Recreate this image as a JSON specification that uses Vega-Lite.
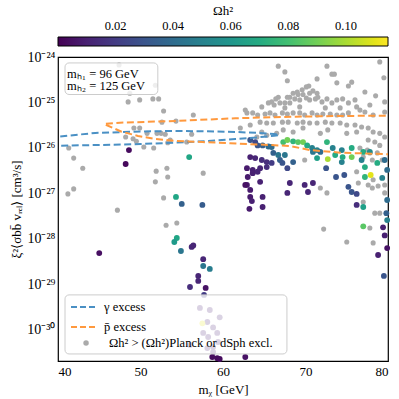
{
"$schema": "https://vega.github.io/schema/vega-lite/v6.json",
"width": 330, "height": 304,
"autosize": "none",
"padding": {"left": 58, "top": 57, "right": 11, "bottom": 38},
"background": "white",
"config": {"view": {"stroke": "black", "strokeWidth": 1.2}, "font": "Liberation Serif"},
"layer": [
{
"data": {"values": [
{"x":41.3,"y":1.0e-26},{"x":41.9,"y":6.0e-27},{"x":43.0,"y":3.6e-27},{"x":41.2,"y":9.8e-28},{"x":41.9,"y":1.26e-27},{"x":47.2,"y":4.3e-28},{"x":47.4,"y":6.7e-25},{"x":48.7,"y":1.6e-25},{"x":48.5,"y":1.03e-25},{"x":49.9,"y":1.14e-25},{"x":51.5,"y":1.2e-25},{"x":52.2,"y":1.2e-25},{"x":51.8,"y":2.4e-25},{"x":52.8,"y":6.5e-26},{"x":56.4,"y":5.3e-26},{"x":54.3,"y":3.9e-26},{"x":52.6,"y":3.7e-26},{"x":49.2,"y":2.75e-26},{"x":49.9,"y":2.75e-26},{"x":50.8,"y":2.1e-26},{"x":52.0,"y":2.1e-26},{"x":52.5,"y":2.1e-26},{"x":53.0,"y":2.0e-26},{"x":48.2,"y":1.75e-26},{"x":49.1,"y":1.6e-26},{"x":49.5,"y":1.4e-26},{"x":53.6,"y":1.5e-26},{"x":53.3,"y":1.3e-26},{"x":51.6,"y":1.0e-26},{"x":50.4,"y":1.05e-26},{"x":56.2,"y":2.0e-26},{"x":55.6,"y":1.35e-26},{"x":51.9,"y":3.1e-27},{"x":53.2,"y":3.6e-27},{"x":53.3,"y":2.3e-27},{"x":57.6,"y":2.8e-27},{"x":51.8,"y":1.8e-27},{"x":52.8,"y":8.0e-28},{"x":53.1,"y":2.0e-28},{"x":54.4,"y":2.25e-28},
{"x":66.7,"y":6.3e-25},{"x":67.5,"y":4.7e-25},{"x":67.8,"y":3.0e-25},{"x":72.6,"y":6.3e-25},{"x":73.2,"y":4.2e-25},{"x":73.5,"y":4.2e-25},{"x":71.4,"y":3.3e-25},{"x":73.8,"y":2.7e-25},{"x":75.2,"y":2.3e-25},{"x":75.6,"y":2.8e-25},{"x":70.4,"y":2.3e-25},{"x":70.1,"y":2.2e-25},{"x":69.6,"y":1.9e-25},{"x":69.0,"y":1.7e-25},{"x":68.5,"y":1.6e-25},{"x":70.9,"y":1.8e-25},{"x":71.4,"y":1.6e-25},{"x":71.5,"y":1.3e-25},{"x":70.5,"y":1.6e-25},{"x":69.7,"y":1.5e-25},{"x":69.1,"y":1.5e-25},{"x":68.1,"y":1.3e-25},{"x":67.8,"y":1.3e-25},{"x":66.7,"y":1.3e-25},{"x":66.4,"y":1.2e-25},{"x":65.9,"y":1.03e-25},{"x":65.5,"y":9.8e-26},{"x":66.2,"y":8.8e-26},{"x":66.9,"y":9.8e-26},{"x":67.5,"y":9.8e-26},{"x":68.1,"y":9.8e-26},{"x":68.7,"y":1.2e-25},{"x":69.3,"y":1.14e-25},{"x":70.1,"y":1.26e-25},{"x":70.5,"y":1.14e-25},{"x":71.2,"y":1.2e-25},{"x":72.0,"y":1.03e-25},{"x":72.6,"y":1.2e-25},{"x":73.2,"y":9.8e-26},{"x":73.8,"y":1.14e-25},{"x":74.5,"y":1.2e-25},{"x":75.2,"y":9.8e-26},{"x":76.0,"y":1.14e-25},{"x":76.2,"y":8.0e-26},{"x":76.6,"y":6.8e-26},{"x":77.2,"y":6.2e-26},{"x":78.2,"y":5.3e-26},{"x":78.5,"y":1.4e-25},{"x":79.6,"y":1.03e-25},{"x":79.6,"y":6.2e-26},
{"x":63.6,"y":5.9e-26},{"x":62.9,"y":5.9e-26},{"x":64.2,"y":5.3e-26},{"x":65.1,"y":5.6e-26},{"x":65.7,"y":5.9e-26},{"x":66.3,"y":5.3e-26},{"x":67.2,"y":5.9e-26},{"x":67.8,"y":5.6e-26},{"x":68.5,"y":5.9e-26},{"x":69.3,"y":5.9e-26},{"x":69.9,"y":5.3e-26},{"x":70.8,"y":5.9e-26},{"x":71.4,"y":5.3e-26},{"x":72.1,"y":5.6e-26},{"x":73.0,"y":5.6e-26},{"x":73.8,"y":5.3e-26},{"x":74.5,"y":5.3e-26},{"x":75.2,"y":5.9e-26},
{"x":64.5,"y":3.7e-26},{"x":65.3,"y":3.55e-26},{"x":66.1,"y":3.55e-26},{"x":67.2,"y":3.7e-26},{"x":67.9,"y":3.7e-26},{"x":69.0,"y":3.55e-26},{"x":69.7,"y":3.7e-26},{"x":70.5,"y":3.55e-26},{"x":71.4,"y":3.55e-26},{"x":72.4,"y":3.7e-26},{"x":73.2,"y":3.55e-26},{"x":74.2,"y":3.55e-26},{"x":75.0,"y":3.2e-26},{"x":76.0,"y":3.2e-26},{"x":76.8,"y":2.9e-26},{"x":77.6,"y":2.75e-26},{"x":78.2,"y":2.25e-26},{"x":79.0,"y":2.1e-26},{"x":79.6,"y":1.75e-26},{"x":76.2,"y":2.25e-26},{"x":75.0,"y":2.1e-26},{"x":71.8,"y":2.1e-26},{"x":72.7,"y":2.5e-26},{"x":69.7,"y":2.75e-26},{"x":68.5,"y":2.25e-26},{"x":67.3,"y":2.5e-26},{"x":66.5,"y":2.1e-26},{"x":64.7,"y":2.25e-26},{"x":65.3,"y":1.9e-26},{"x":64.1,"y":1.75e-26},
{"x":77.6,"y":1.5e-26},{"x":78.4,"y":1.35e-26},{"x":79.0,"y":1.14e-26},{"x":76.6,"y":1.0e-26},{"x":77.5,"y":9.0e-27},{"x":77.8,"y":7.8e-27},{"x":78.7,"y":7.8e-27},{"x":77.0,"y":6.3e-27},{"x":78.1,"y":5.45e-27},{"x":79.3,"y":5.45e-27},{"x":71.8,"y":1.32e-27},{"x":72.6,"y":1.03e-27},{"x":77.6,"y":1.54e-27},{"x":78.1,"y":1.32e-27},{"x":79.6,"y":1.54e-27},{"x":79.6,"y":1.03e-27},{"x":69.9,"y":5.45e-27},{"x":76.2,"y":3.0e-27},{"x":76.4,"y":1.7e-27},{"x":78.2,"y":2.0e-27},{"x":78.8,"y":1.46e-27},{"x":77.0,"y":6.5e-28},{"x":78.4,"y":3.7e-28},{"x":79.0,"y":3.7e-28},{"x":77.8,"y":1.75e-28},{"x":75.0,"y":8.6e-29},{"x":78.2,"y":8.2e-29},{"x":72.2,"y":1.65e-28},
{"x":79.0,"y":7.8e-25},{"x":79.5,"y":3.5e-25},{"x":77.2,"y":1.7e-25},{"x":77.8,"y":8.8e-26},{"x":74.2,"y":7.6e-26},{"x":72.4,"y":7.6e-26},{"x":69.3,"y":8.0e-26},{"x":67.5,"y":7.6e-26},{"x":64.7,"y":8.0e-26},{"x":62.7,"y":6.8e-26},{"x":63.3,"y":3.2e-26},{"x":62.1,"y":2.75e-26}
]},
"mark": {"type": "point", "filled": true, "size": 26, "opacity": 1, "color": "#aaaaaa"},
"encoding": {
"x": {"field": "x", "type": "quantitative", "scale": {"domain": [40, 80], "nice": false, "zero": false},
 "axis": {"orient": "bottom", "values": [40,42,44,46,48,50,52,54,56,58,60,62,64,66,68,70,72,74,76,78,80], "format": "d", "labelExpr": "datum.value % 10 === 0 ? datum.label : ''", "labelOverlap": false, "tickSize": 0, "labelPadding": 4, "domain": false, "grid": false, "labelFont": "Liberation Serif", "labelFontSize": 13, "labelColor": "black", "title": "mᵪ [GeV]", "titleFont": "Liberation Serif", "titleFontSize": 13, "titleFontWeight": "normal", "titleColor": "black", "titlePadding": 5,
 "encode": {"ticks": {"update": {"y2": [{"test": "datum.value % 10 === 0", "value": -6}, {"value": -3}], "stroke": {"value": "black"}}}}}},
"y": {"field": "y", "type": "quantitative", "scale": {"type": "log", "domain": [2.08e-31, 1e-24], "nice": false},
 "axis": {"orient": "left", "values": [3e-31,4e-31,5e-31,6e-31,7e-31,8e-31,9e-31,1e-30,2e-30,3e-30,4e-30,5e-30,6e-30,7e-30,8e-30,9e-30,1e-29,2e-29,3e-29,4e-29,5e-29,6e-29,7e-29,8e-29,9e-29,1e-28,2e-28,3e-28,4e-28,5e-28,6e-28,7e-28,8e-28,9e-28,1e-27,2e-27,3e-27,4e-27,5e-27,6e-27,7e-27,8e-27,9e-27,1e-26,2e-26,3e-26,4e-26,5e-26,6e-26,7e-26,8e-26,9e-26,1e-25,2e-25,3e-25,4e-25,5e-25,6e-25,7e-25,8e-25,9e-25,1e-24],
 "labelExpr": "abs(log(datum.value)/LN10 - round(log(datum.value)/LN10)) < 0.01 ? ['10⁻²⁴','10⁻²⁵','10⁻²⁶','10⁻²⁷','10⁻²⁸','10⁻²⁹','10⁻³⁰'][round(-log(datum.value)/LN10) - 24] : ''",
 "labelOverlap": false, "tickSize": 0, "labelPadding": 3, "domain": false, "grid": false, "labelFont": "Liberation Serif", "labelFontSize": 14, "labelColor": "black", "title": "ξ²⟨σbb̄ vᵣₑₗ⟩ [cm³/s]", "titleFont": "Liberation Serif", "titleFontSize": 13, "titleFontWeight": "normal", "titleColor": "black", "titlePadding": 3,
 "encode": {"ticks": {"update": {"x2": [{"test": "abs(log(datum.value)/LN10 - round(log(datum.value)/LN10)) < 0.01", "value": 6}, {"value": 3}], "stroke": {"value": "black"}}}}}},
"shape": {"datum": "Ωh² > (Ωh²)Planck or dSph excl.", "type": "nominal", "scale": {"range": ["circle"]},
 "legend": {"orient": "none", "legendX": 21.8, "legendY": 279.75, "title": null, "padding": 0, "symbolSize": 30, "symbolFillColor": "#aaaaaa", "symbolStrokeWidth": 0, "symbolOpacity": 1, "labelOffset": 16.7, "labelFont": "Liberation Serif", "labelFontSize": 12.5, "labelColor": "black", "labelLimit": 300}}
}
},
{
"data": {"values": [
{"x":48.6,"y":9.0e-27,"v":0.003},{"x":48.2,"y":4.45e-27,"v":0.002},{"x":55.9,"y":6.3e-27,"v":0.068},{"x":45.0,"y":4.9e-29,"v":0.004},{"x":54.3,"y":8.4e-28,"v":0.068},{"x":55.0,"y":5.9e-28,"v":0.035},{"x":57.5,"y":5.6e-28,"v":0.033},{"x":54.4,"y":1.05e-28,"v":0.068},{"x":54.1,"y":8.6e-29,"v":0.062},{"x":54.9,"y":5.45e-29,"v":0.045},{"x":56.2,"y":6.7e-29,"v":0.012},{"x":56.4,"y":7.2e-29,"v":0.012},{"x":57.6,"y":3.6e-29,"v":0.012},{"x":57.6,"y":2.55e-29,"v":0.045},{"x":58.4,"y":2.2e-29,"v":0.048},{"x":57.0,"y":1.54e-29,"v":0.012},{"x":57.0,"y":1.2e-29,"v":0.012},{"x":56.0,"y":8.8e-30,"v":0.015},{"x":57.9,"y":8.4e-30,"v":0.005},{"x":57.7,"y":5.9e-30,"v":0.02},
{"x":57.2,"y":3.05e-30,"v":0.01},{"x":58.4,"y":2.75e-30,"v":0.01},{"x":59.6,"y":1.9e-30,"v":0.012},{"x":58.1,"y":1.5e-30,"v":0.01},{"x":57.5,"y":1.4e-30,"v":0.11},{"x":58.8,"y":1.14e-30,"v":0.01},{"x":57.6,"y":8.6e-31,"v":0.01},{"x":59.3,"y":8.6e-31,"v":0.01},{"x":58.2,"y":7.0e-31,"v":0.01},{"x":59.4,"y":5.45e-31,"v":0.01},{"x":58.8,"y":4.2e-31,"v":0.01},{"x":58.1,"y":4.0e-31,"v":0.01},{"x":56.0,"y":4.7e-31,"v":0.01},{"x":58.8,"y":3.3e-31,"v":0.01},{"x":58.7,"y":2.55e-31,"v":0.003},{"x":59.3,"y":2.4e-31,"v":0.003},{"x":59.6,"y":2.3e-31,"v":0.003},{"x":62.7,"y":2.55e-31,"v":0.005},
{"x":63.3,"y":1.5e-26,"v":0.03},{"x":63.9,"y":1.35e-26,"v":0.025},{"x":64.2,"y":1.14e-26,"v":0.03},{"x":64.8,"y":1.14e-26,"v":0.035},{"x":65.5,"y":1.08e-26,"v":0.04},{"x":65.9,"y":1.05e-26,"v":0.04},{"x":66.1,"y":7.8e-27,"v":0.035},{"x":66.7,"y":7.0e-27,"v":0.045},{"x":67.5,"y":7.0e-27,"v":0.045},{"x":66.9,"y":5.45e-27,"v":0.035},{"x":67.2,"y":4.7e-27,"v":0.03},{"x":67.8,"y":3.6e-27,"v":0.025},{"x":68.5,"y":4.9e-27,"v":0.035},
{"x":63.3,"y":6.3e-27,"v":0.01},{"x":63.9,"y":6.0e-27,"v":0.012},{"x":64.7,"y":5.45e-27,"v":0.015},{"x":65.3,"y":4.9e-27,"v":0.015},{"x":65.9,"y":4.7e-27,"v":0.02},{"x":62.9,"y":3.6e-27,"v":0.008},{"x":63.6,"y":3.3e-27,"v":0.01},{"x":64.5,"y":3.6e-27,"v":0.012},{"x":65.3,"y":3.8e-27,"v":0.015},{"x":63.0,"y":2.3e-27,"v":0.008},{"x":62.9,"y":1.54e-27,"v":0.008},{"x":64.5,"y":1.8e-27,"v":0.01},{"x":63.3,"y":1.2e-27,"v":0.008},{"x":63.3,"y":8.4e-28,"v":0.008},{"x":64.8,"y":8.4e-28,"v":0.01},{"x":63.2,"y":4.6e-28,"v":0.008},{"x":64.8,"y":5.05e-28,"v":0.01},{"x":62.7,"y":1.54e-27,"v":0.005},{"x":63.6,"y":2.8e-27,"v":0.01},{"x":64.2,"y":3.0e-27,"v":0.012},{"x":63.5,"y":6.8e-28,"v":0.01},
{"x":68.1,"y":1.7e-27,"v":0.012},{"x":67.8,"y":1.03e-27,"v":0.012},{"x":69.9,"y":1.54e-27,"v":0.012},{"x":70.3,"y":1.08e-27,"v":0.012},{"x":70.9,"y":1.7e-27,"v":0.012},{"x":72.5,"y":3.6e-27,"v":0.03},{"x":73.7,"y":2.3e-27,"v":0.03},{"x":74.7,"y":2.55e-27,"v":0.03},{"x":75.2,"y":1.4e-27,"v":0.03},{"x":75.6,"y":1.08e-27,"v":0.03},{"x":76.2,"y":9.8e-28,"v":0.025},{"x":76.2,"y":5.6e-28,"v":0.015},{"x":77.0,"y":5.05e-28,"v":0.065},{"x":77.2,"y":2.3e-27,"v":0.075},{"x":77.9,"y":2.55e-27,"v":0.11},{"x":79.3,"y":2.2e-27,"v":0.05},{"x":77.0,"y":1.9e-28,"v":0.085},{"x":79.4,"y":1.8e-28,"v":0.01},{"x":79.6,"y":1.2e-28,"v":0.01},{"x":78.8,"y":4.45e-29,"v":0.01},{"x":79.5,"y":1.54e-29,"v":0.03},{"x":79.9,"y":2.6e-28,"v":0.05},{"x":79.8,"y":3.7e-28,"v":0.035},{"x":79.9,"y":7.2e-28,"v":0.04},{"x":79.9,"y":6.3e-29,"v":0.005},
{"x":67.3,"y":1.35e-26,"v":0.08},{"x":67.8,"y":1.5e-26,"v":0.09},{"x":68.5,"y":1.4e-26,"v":0.075},{"x":69.1,"y":1.35e-26,"v":0.085},{"x":69.7,"y":1.35e-26,"v":0.09},{"x":70.2,"y":1.14e-26,"v":0.07},{"x":70.8,"y":1.0e-26,"v":0.05},{"x":71.4,"y":9.0e-27,"v":0.05},{"x":72.6,"y":1.35e-26,"v":0.075},{"x":73.3,"y":1.0e-26,"v":0.05},{"x":74.4,"y":9.0e-27,"v":0.05},{"x":75.6,"y":6.3e-27,"v":0.09},{"x":76.8,"y":5.45e-27,"v":0.05},{"x":77.2,"y":3.8e-27,"v":0.07},{"x":78.7,"y":4.7e-27,"v":0.07},{"x":72.7,"y":5.7e-27,"v":0.1},{"x":73.6,"y":7.0e-27,"v":0.07},{"x":74.4,"y":4.9e-27,"v":0.05},{"x":74.5,"y":6.3e-27,"v":0.07},{"x":71.4,"y":6.0e-27,"v":0.065},{"x":70.9,"y":8.2e-27,"v":0.045},{"x":75.6,"y":1.0e-26,"v":0.07},{"x":77.0,"y":8.2e-27,"v":0.07},{"x":77.8,"y":8.2e-27,"v":0.055},{"x":79.6,"y":5.45e-27,"v":0.04},{"x":79.9,"y":3.3e-27,"v":0.04},{"x":71.8,"y":8.2e-27,"v":0.04}
]},
"mark": {"type": "point", "filled": true, "size": 34, "opacity": 1},
"encoding": {
"x": {"field": "x", "type": "quantitative", "axis": null},
"y": {"field": "y", "type": "quantitative", "axis": null},
"fill": {"field": "v", "type": "quantitative", "scale": {"scheme": "viridis", "domain": [0, 0.1146], "nice": false, "zero": false},
 "legend": {"orient": "none", "legendX": 0, "legendY": -52, "direction": "horizontal", "gradientLength": 330, "gradientThickness": 9, "gradientStrokeColor": "black", "gradientStrokeWidth": 1, "title": "Ωh²", "titleAnchor": "middle", "titleFont": "Liberation Serif", "titleFontSize": 13, "titleFontWeight": "normal", "titleColor": "black", "titlePadding": 19, "values": [0.02, 0.04, 0.06, 0.08, 0.1], "format": ".2f", "labelOffset": -26, "labelFont": "Liberation Serif", "labelFontSize": 12.5, "labelColor": "black", "labelOverlap": false}}
}
},
{
"data": {"values": [
{"s":"γ excess","o":1,"x":39,"y":1.8e-26},{"s":"γ excess","o":2,"x":40,"y":1.77e-26},{"s":"γ excess","o":3,"x":44.5,"y":2.14e-26},{"s":"γ excess","o":4,"x":50,"y":2.3e-26},{"s":"γ excess","o":5,"x":54.2,"y":2.37e-26},{"s":"γ excess","o":6,"x":58,"y":2.33e-26},{"s":"γ excess","o":7,"x":61.5,"y":2.25e-26},{"s":"γ excess","o":8,"x":64,"y":2.15e-26},{"s":"γ excess","o":9,"x":66.2,"y":2.03e-26},{"s":"γ excess","o":10,"x":66.8,"y":1.93e-26},{"s":"γ excess","o":11,"x":66.2,"y":1.86e-26},{"s":"γ excess","o":12,"x":64,"y":1.7e-26},{"s":"γ excess","o":13,"x":61.5,"y":1.58e-26},{"s":"γ excess","o":14,"x":58,"y":1.42e-26},{"s":"γ excess","o":15,"x":54.2,"y":1.31e-26},{"s":"γ excess","o":16,"x":50,"y":1.22e-26},{"s":"γ excess","o":17,"x":44.5,"y":1.16e-26},{"s":"γ excess","o":18,"x":40,"y":1.12e-26},{"s":"γ excess","o":19,"x":39,"y":1.11e-26},
{"s":"p̄ excess","o":1,"x":81,"y":5.14e-26},{"s":"p̄ excess","o":2,"x":80,"y":5.13e-26},{"s":"p̄ excess","o":3,"x":73.7,"y":5.05e-26},{"s":"p̄ excess","o":4,"x":68.8,"y":4.88e-26},{"s":"p̄ excess","o":5,"x":61.5,"y":4.5e-26},{"s":"p̄ excess","o":6,"x":54.2,"y":3.92e-26},{"s":"p̄ excess","o":7,"x":47.5,"y":3.6e-26},{"s":"p̄ excess","o":8,"x":45.6,"y":3.37e-26},{"s":"p̄ excess","o":9,"x":47.7,"y":2.28e-26},{"s":"p̄ excess","o":10,"x":49.7,"y":1.84e-26},{"s":"p̄ excess","o":11,"x":51.8,"y":1.58e-26},{"s":"p̄ excess","o":12,"x":54,"y":1.44e-26},{"s":"p̄ excess","o":13,"x":57.5,"y":1.35e-26},{"s":"p̄ excess","o":14,"x":60.9,"y":1.27e-26},{"s":"p̄ excess","o":15,"x":64.5,"y":1.19e-26},{"s":"p̄ excess","o":16,"x":68.1,"y":1.11e-26},{"s":"p̄ excess","o":17,"x":70.5,"y":9.0e-27},{"s":"p̄ excess","o":18,"x":74.2,"y":7.9e-27},{"s":"p̄ excess","o":19,"x":80,"y":7.3e-27},{"s":"p̄ excess","o":20,"x":81,"y":7.2e-27}
]},
"mark": {"type": "line", "strokeDash": [7, 3.5], "strokeWidth": 2, "clip": true},
"encoding": {
"x": {"field": "x", "type": "quantitative", "axis": {"orient": "top", "values": [40,42,44,46,48,50,52,54,56,58,60,62,64,66,68,70,72,74,76,78,80], "labels": false, "title": null, "tickSize": 0, "domain": false, "grid": false,
 "encode": {"ticks": {"update": {"y2": [{"test": "datum.value % 10 === 0", "value": 6}, {"value": 3}], "stroke": {"value": "black"}}}}}},
"y": {"field": "y", "type": "quantitative", "axis": {"orient": "right", "values": [3e-31,4e-31,5e-31,6e-31,7e-31,8e-31,9e-31,1e-30,2e-30,3e-30,4e-30,5e-30,6e-30,7e-30,8e-30,9e-30,1e-29,2e-29,3e-29,4e-29,5e-29,6e-29,7e-29,8e-29,9e-29,1e-28,2e-28,3e-28,4e-28,5e-28,6e-28,7e-28,8e-28,9e-28,1e-27,2e-27,3e-27,4e-27,5e-27,6e-27,7e-27,8e-27,9e-27,1e-26,2e-26,3e-26,4e-26,5e-26,6e-26,7e-26,8e-26,9e-26,1e-25,2e-25,3e-25,4e-25,5e-25,6e-25,7e-25,8e-25,9e-25,1e-24], "labels": false, "title": null, "tickSize": 0, "domain": false, "grid": false,
 "encode": {"ticks": {"update": {"x2": [{"test": "abs(log(datum.value)/LN10 - round(log(datum.value)/LN10)) < 0.01", "value": -6}, {"value": -3}], "stroke": {"value": "black"}}}}}},
"color": {"field": "s", "type": "nominal",
 "scale": {"domain": ["γ excess", "p̄ excess"], "range": ["#4a90c4", "#ff993e"]},
 "legend": {"orient": "none", "legendX": 12, "legendY": 236.5, "title": null, "padding": 0, "symbolType": "stroke", "symbolSize": 625, "symbolDash": [6, 3], "symbolStrokeWidth": 2, "rowPadding": -7, "labelOffset": 7, "labelFont": "Liberation Serif", "labelFontSize": 12.5, "labelColor": "black", "labelLimit": 300}},
"order": {"field": "o", "type": "quantitative"}
}
},
{
"data": {"values": [{"x1": 40.85, "x2": 52.1, "y1": 7.4e-25, "y2": 1.5e-25}, {"x1": 40.85, "x2": 67.75, "y1": 5.9e-30, "y2": 2.97e-31}]},
"mark": {"type": "rect", "fill": "white", "fillOpacity": 0.8, "stroke": "#cccccc", "strokeWidth": 1, "cornerRadius": 4},
"encoding": {
"x": {"field": "x1", "type": "quantitative", "axis": null}, "x2": {"field": "x2"},
"y": {"field": "y1", "type": "quantitative", "axis": null}, "y2": {"field": "y2"}
}
},
{
"data": {"values": [{"x": 41.1, "y": 4.3e-25, "t": "mₕ₁ = 96 GeV"}, {"x": 41.1, "y": 2.25e-25, "t": "mₕ₂ = 125 GeV"}]},
"mark": {"type": "text", "align": "left", "baseline": "middle", "font": "Liberation Serif", "fontSize": 12.5, "color": "black"},
"encoding": {
"x": {"field": "x", "type": "quantitative", "axis": null},
"y": {"field": "y", "type": "quantitative", "axis": null},
"text": {"field": "t"}
}
}
],
"resolve": {"axis": {"x": "independent", "y": "independent"}}
}
